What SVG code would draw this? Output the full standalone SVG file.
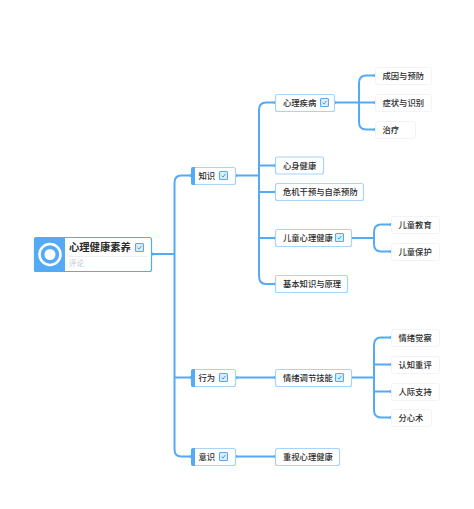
<svg xmlns="http://www.w3.org/2000/svg" width="474" height="509" viewBox="0 0 474 509">
<defs>
<g id="check"><rect x="0.5" y="0.5" width="8" height="8" rx="1" fill="#dcedfc" stroke="#55aaf5" stroke-width="1.100"/><path d="M2.600 4.700L4 6.100L6.400 2.900" fill="none" stroke="#3d8fd8" stroke-width="0.900"/></g>
</defs>
<style>
text{font-family:"Noto Sans CJK SC","Liberation Sans",sans-serif;fill:#2b2b2b;font-size:8.300px;font-weight:500;dominant-baseline:central}
.b{fill:#fff;stroke:#a6d4fb;stroke-width:1.200}
.l{fill:#fff;stroke:#f0f4f8;stroke-width:1}
.c path{fill:none;stroke:#55aaf5;stroke-width:2}
.c circle{fill:#55aaf5}
</style>
<rect width="474" height="509" fill="#fff"/>
<g class="c" id="connectors">
<path d="M152 254H174.500M174.500 254V183Q174.500 175.500 181 175.500H191M174.500 254V449Q174.500 456.500 181 456.500H191M174.500 377.500H191"/>
<path d="M236 175.500H259M259 110V276M259 110Q259 102.500 266 102.500H275M259 165.500H275M259 192H275M259 238H275M259 276Q259 284 266 284H275"/>
<path d="M335 102.500H359M359 83Q359 75.500 366 75.500H375M359 102.500H375M359 122Q359 129.500 366 129.500H375M359 83V122"/>
<path d="M351 238H374M374 232Q374 224.500 381 224.500H391M374 244Q374 251.500 381 251.500H391M374 232V244"/>
<path d="M236 377.500H275M351 377.500H374M374 345Q374 337.500 381 337.500H391M374 345V410M374 364.500H391M374 391.500H391M374 410Q374 417.500 381 417.500H391"/>
<path d="M236 456.500H275"/>
<circle cx="153" cy="254" r="1.500"/><circle cx="191" cy="175.500" r="1.500"/><circle cx="236" cy="175.500" r="1.500"/>
<circle cx="191" cy="377.500" r="1.500"/><circle cx="236" cy="377.500" r="1.500"/><circle cx="191" cy="456.500" r="1.500"/><circle cx="236" cy="456.500" r="1.500"/>
<circle cx="275" cy="102.500" r="1.500"/><circle cx="335" cy="102.500" r="1.500"/><circle cx="275" cy="165.500" r="1.500"/><circle cx="275" cy="192" r="1.500"/><circle cx="275" cy="238" r="1.500"/><circle cx="351" cy="238" r="1.500"/><circle cx="275" cy="284" r="1.500"/><circle cx="275" cy="377.500" r="1.500"/><circle cx="351" cy="377.500" r="1.500"/><circle cx="275" cy="456.500" r="1.500"/>
<circle cx="375" cy="75.500" r="1.500"/><circle cx="375" cy="102.500" r="1.500"/><circle cx="375" cy="129.500" r="1.500"/><circle cx="391" cy="224.500" r="1.500"/><circle cx="391" cy="251.500" r="1.500"/><circle cx="391" cy="337.500" r="1.500"/><circle cx="391" cy="364.500" r="1.500"/><circle cx="391" cy="391.500" r="1.500"/><circle cx="391" cy="417.500" r="1.500"/>
</g>
<g id="root"><rect x="34.500" y="237.500" width="117" height="34" rx="2" fill="#fff" stroke="#55aaf5" stroke-width="1.200"/><path d="M36.500 237H65V272H36.500Q34 272 34 269.500V239.500Q34 237 36.500 237Z" fill="#55aaf5"/><circle cx="50" cy="254.500" r="10.500" fill="none" stroke="#fff" stroke-width="2.500"/><circle cx="50" cy="254.500" r="5.500" fill="#fff"/><text x="69" y="246.800" style="font-size:10.300px;font-weight:700">心理健康素养</text><use href="#check" x="135" y="243"/><path d="M68 256.500H148" stroke="#eef1f4" stroke-width="1"/><text x="69" y="262.800" style="font-size:7.500px;font-weight:400;fill:#c4c9ce">评论</text></g>
<g id="n-zhishi"><rect class="b" x="191.500" y="167.500" width="44" height="17" rx="2"/><path d="M193 167H195V185H193Q191 185 191 183V169Q191 167 193 167Z" fill="#55aaf5"/><text x="198.500" y="174.700">知识</text><use href="#check" x="219" y="171"/></g>
<g id="n-xingwei"><rect class="b" x="191.500" y="369.500" width="44" height="17" rx="2"/><path d="M193 369H195V387H193Q191 387 191 385V371Q191 369 193 369Z" fill="#55aaf5"/><text x="198.500" y="376.700">行为</text><use href="#check" x="219" y="373"/></g>
<g id="n-yishi"><rect class="b" x="191.500" y="448.500" width="44" height="17" rx="2"/><path d="M193 448H195V466H193Q191 466 191 464V450Q191 448 193 448Z" fill="#55aaf5"/><text x="198.500" y="455.700">意识</text><use href="#check" x="219" y="452"/></g>
<g id="n-jibing"><rect class="b" x="275.500" y="94.500" width="59" height="17" rx="2"/><text x="283" y="101.700">心理疾病</text><use href="#check" x="320" y="98"/></g>
<g id="n-xinshen"><rect class="b" x="275.500" y="157" width="48" height="17" rx="2"/><text x="283" y="164.700">心身健康</text></g>
<g id="n-weiji"><rect class="b" x="275.500" y="183.500" width="88" height="17" rx="2"/><text x="283" y="191.200">危机干预与自杀预防</text></g>
<g id="n-ertong"><rect class="b" x="275.500" y="229.500" width="76" height="17" rx="2"/><text x="283" y="237.200">儿童心理健康</text><use href="#check" x="335" y="233"/></g>
<g id="n-jiben"><rect class="b" x="275.500" y="275.500" width="72" height="17" rx="2"/><text x="283" y="283.200">基本知识与原理</text></g>
<g id="n-qingxu"><rect class="b" x="275.500" y="369.500" width="76" height="17" rx="2"/><text x="283" y="376.700">情绪调节技能</text><use href="#check" x="335" y="373"/></g>
<g id="n-zhongshi"><rect class="b" x="275.500" y="448.500" width="64" height="17" rx="2"/><text x="283" y="455.700">重视心理健康</text></g>
<g id="n-chengyin"><rect class="l" x="375.500" y="67.500" width="56" height="17" rx="2"/><text x="382.500" y="74.700">成因与预防</text></g>
<g id="n-zhengzhuang"><rect class="l" x="375.500" y="94.500" width="56" height="17" rx="2"/><text x="382.500" y="101.700">症状与识别</text></g>
<g id="n-zhiliao"><rect class="l" x="375.500" y="121.500" width="40" height="17" rx="2"/><text x="382.500" y="128.700">治疗</text></g>
<g id="n-jiaoyu"><rect class="l" x="391.500" y="216.500" width="48" height="17" rx="2"/><text x="398.500" y="223.700">儿童教育</text></g>
<g id="n-baohu"><rect class="l" x="391.500" y="243.500" width="48" height="17" rx="2"/><text x="398.500" y="250.700">儿童保护</text></g>
<g id="n-juecha"><rect class="l" x="391.500" y="329.500" width="48" height="17" rx="2"/><text x="398.500" y="336.700">情绪觉察</text></g>
<g id="n-chongping"><rect class="l" x="391.500" y="356.500" width="48" height="17" rx="2"/><text x="398.500" y="363.700">认知重评</text></g>
<g id="n-renji"><rect class="l" x="391.500" y="383.500" width="48" height="17" rx="2"/><text x="398.500" y="390.700">人际支持</text></g>
<g id="n-fenxin"><rect class="l" x="391.500" y="409.500" width="40" height="17" rx="2"/><text x="398.500" y="416.700">分心术</text></g>
</svg>
